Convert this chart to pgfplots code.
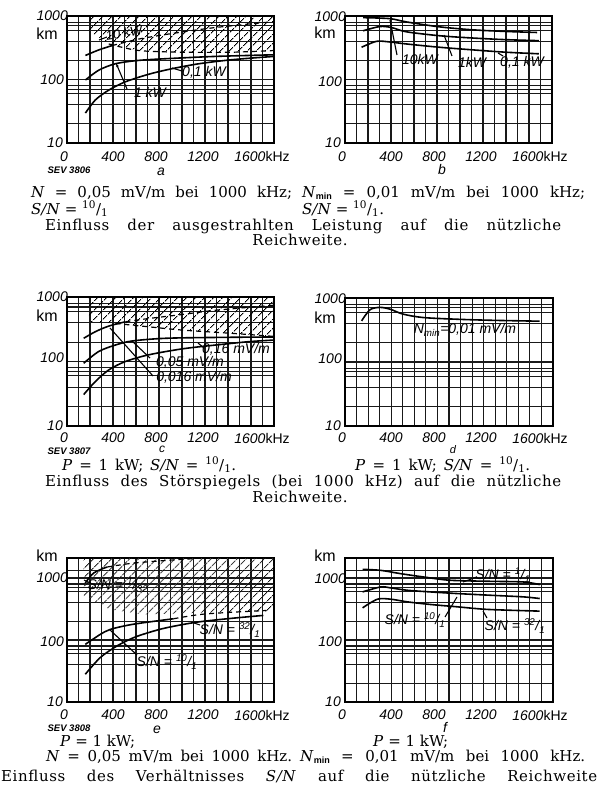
\documentclass[border=0pt]{standalone}
\usepackage{fontspec}
\setmainfont{DejaVu Serif}
\newfontfamily\hand{Liberation Sans}
\usepackage{pgfplots}
\pgfplotsset{compat=1.18}
\usetikzlibrary{patterns.meta,arrows.meta}
\newcommand\hf{\hand\itshape\fontsize{14}{14}\selectfont}
\newcommand\hu{\hand\fontsize{16}{16}\selectfont}
\newcommand\cf{\fontsize{15}{17}\selectfont}
\newcommand\ls{\addfontfeatures{LetterSpace=4}}
\newcommand\frc[2]{\textsuperscript{#1}/\textsubscript{#2}}
\newcommand\mn{\raisebox{-0.15em}{\hand\bfseries\fontsize{9}{9}\selectfont min}}
\pgfplotsset{
  every axis/.append style={scale only axis, width=207pt, height=127pt, xmin=0, xmax=1800,
    ymin=10, ymax=1000,
    xtick={0,100,...,1800}, xticklabels={},
    yticklabels={},
    major tick length=0pt, minor tick length=0pt,
    grid=major, grid style={line width=1.1pt, black!90},
    axis line style={line width=1.8pt}, clip=true, anchor=south west},
}
\tikzset{
  sevcurve/.style={line width=1.6pt, black, smooth, mark=none},
  sevdcurve/.style={line width=1.2pt, black, smooth, mark=none, dash pattern=on 5pt off 4pt},
  sevhatch/.style={draw=none, pattern={Lines[angle=45,distance=6.5pt,line width=0.9pt]}},
}
\newcommand\xlabs[2]{%
  \node[font=\hf] at (#1-3,812-#2) {0};
  \node[font=\hf] at (#1+46,812-#2) {400};
  \node[font=\hf] at (#1+89,812-#2) {800};
  \node[font=\hf] at (#1+136,812-#2) {1200};
  \node[font=\hf] at (#1+195,812-#2) {1600{\upshape kHz}};}
\newcommand\ylabs[5]{%
  \node[font=\hf, anchor=east, inner sep=0pt] at (#1+1,812-#2) {1000};
  \node[font=\hu] at (#1-20,812-#5) {km};
  \node[font=\hf, anchor=east, inner sep=0pt] at (#1-3,812-#3) {100};
  \node[font=\hf, anchor=east, inner sep=0pt] at (#1-4,812-#4) {10};}
\begin{document}
\begin{tikzpicture}
\path[use as bounding box] (0pt,0pt) rectangle (598pt,812pt);
% ---------- panel a
\begin{semilogyaxis}[at={(67pt,669pt)}, ytick={20,40,60,70,80,100,200,400,600,700,800,1000}]
\addplot[sevhatch] coordinates {(189,1000) (189,585) (363,363) (624,286) (1002,269) (1437,269) (1800,286) (1800,1000)} -- cycle;
\addplot[sevdcurve] coordinates {(363,363) (624,286) (1002,269) (1437,269) (1800,286)};
\addplot[sevcurve] coordinates {(160,29.6) (247,47.7) (363,68) (508,92) (711,121) (914,148) (1147,177) (1437,205) (1800,231)};
\addplot[sevcurve] coordinates {(160,98) (276,140) (421,177) (624,200) (914,215) (1292,231) (1800,245)};
\addplot[sevcurve] coordinates {(160,239) (276,292) (392,342)};
\addplot[sevdcurve] coordinates {(392,342) (624,433) (914,530) (1292,659) (1800,816)};
\end{semilogyaxis}
% ---------- panel b
\begin{semilogyaxis}[at={(345pt,669pt)}, ytick={20,40,60,70,80,100,200,400,600,700,800,1000}]
\addplot[sevcurve] coordinates {(158,942) (389,909) (533,807) (821,675) (1109,606) (1397,571) (1670,550)};
\addplot[sevcurve] coordinates {(158,585) (302,682) (403,659) (533,564) (821,489) (1109,450) (1397,424) (1685,409)};
\addplot[sevcurve] coordinates {(144,322) (274,399) (389,390) (533,363) (821,322) (1109,293) (1397,269) (1685,254)};
\end{semilogyaxis}
% ---------- panel c
\begin{semilogyaxis}[height=129pt, at={(67pt,386pt)}, ytick={20,40,60,70,80,100,200,400,600,700,800,1000}]
\addplot[sevhatch] coordinates {(189,1000) (189,412) (421,389) (711,345) (1002,307) (1437,273) (1800,245) (1800,1000)} -- cycle;
\addplot[sevdcurve] coordinates {(421,389) (711,345) (1002,307) (1437,273) (1800,245)};
\addplot[sevcurve] coordinates {(145,30.7) (247,49) (363,74) (508,100) (711,127) (1002,157) (1292,180) (1582,203) (1800,215)};
\addplot[sevcurve] coordinates {(145,94) (276,143) (421,180) (566,208) (856,229) (1292,236) (1800,240)};
\addplot[sevcurve] coordinates {(145,229) (247,290) (363,354) (508,413)};
\addplot[sevdcurve] coordinates {(508,413) (711,464) (1002,535) (1292,623) (1800,745)};
\end{semilogyaxis}
% ---------- panel d
\begin{semilogyaxis}[width=208pt, height=128pt, at={(345pt,386pt)}, ytick={20,40,60,70,80,100,200,400,600,700,800,1000}]
\addplot[sevcurve] coordinates {(144,439) (216,655) (302,713) (389,670) (504,559) (677,495) (965,466) (1253,449) (1685,434)};
\end{semilogyaxis}
% ---------- panel e
\begin{semilogyaxis}[height=144pt, ymax=2100, ytick={20,40,60,70,80,100,200,400,600,700,800,1000,1300}, at={(67pt,110pt)}]
\addplot[sevhatch] coordinates {(145,2100) (145,508) (376,310) (666,258) (1158,275) (1800,292) (1800,2100)} -- cycle;
\addplot[sevcurve] coordinates {(159,831) (232,1203) (347,1500)};
\addplot[sevdcurve] coordinates {(347,1500) (579,1740) (868,1920) (1100,2050)};
\addplot[sevcurve] coordinates {(159,85) (289,123) (376,148) (521,172) (666,190) (926,220)};
\addplot[sevdcurve] coordinates {(926,220) (1158,258) (1447,281) (1736,299)};
\addplot[sevcurve] coordinates {(159,28) (289,52) (434,80) (579,109) (723,134) (868,158) (1129,194) (1447,225) (1707,249)};
\end{semilogyaxis}
% ---------- panel f
\begin{semilogyaxis}[width=208pt, height=144pt, ymax=2100, ytick={20,40,60,70,80,100,200,400,600,700,800,1000,1300}, at={(345pt,110pt)}]
\addplot[sevcurve] coordinates {(152,1377) (310,1327) (481,1174) (682,1037) (911,918) (1255,884) (1542,863) (1685,782)};
\addplot[sevcurve] coordinates {(152,596) (310,717) (396,691) (539,634) (739,596) (969,561) (1255,527) (1542,496) (1685,466)};
\addplot[sevcurve] coordinates {(152,330) (281,455) (396,455) (539,412) (739,374) (969,343) (1198,314) (1399,303) (1685,292)};
\end{semilogyaxis}
\begin{scope}[x=1pt,y=1pt]
% ---------- axis labels
\xlabs{67}{157}\xlabs{345}{157}
\xlabs{67}{438}\xlabs{345}{438}
\xlabs{67}{715}\xlabs{345}{715}
\ylabs{67}{16}{80}{143}{34}
\ylabs{345}{17}{82}{143}{33}
\ylabs{67}{297}{358}{426}{316}
\ylabs{345}{299}{359}{426}{318}
\ylabs{67}{578}{642}{702}{556}
\ylabs{345}{579}{642}{702}{556}
% panel letters and SEV numbers
\begin{scope}[every node/.style={font=\hand\itshape\fontsize{14}{14}\selectfont, inner sep=0pt, anchor=base}]
\node at (161,812-176) {a};
\node at (442,812-175) {b};
\node[font=\hand\itshape\fontsize{12}{12}\selectfont] at (162,812-453) {c};
\node[font=\hand\itshape\fontsize{11}{11}\selectfont] at (453,812-454) {d};
\node at (157,812-734) {e};
\node at (445,812-733) {f};
\end{scope}
\begin{scope}[every node/.style={font=\hand\itshape\bfseries\fontsize{9.5}{9.5}\selectfont, inner sep=0pt}]
\node at (69,812-170) {SEV 3806};
\node at (69,812-451) {SEV 3807};
\node at (69,812-728) {SEV 3808};
\end{scope}
% ---------- annotations
\begin{scope}[every node/.style={font=\hf, inner sep=0.5pt}, line width=1.1pt]
\node[rotate=10, font=\hand\itshape\fontsize{13}{13}\selectfont] at (124,812-33) {10 kW};
\draw (99,812-40) -- (107,812-37);
\node at (204,812-72) {0,1 kW};
\draw (182,812-71) -- (172,812-68);
\node at (150,812-92) {1 kW};
\draw[-{Latex[length=4pt]}] (127,812-89) -- (116,812-63);
\node at (420,812-60) {10kW};
\draw (397,812-55) -- (390,812-20);
\node at (472,812-62) {1kW};
\draw (452,812-56) -- (444,812-35);
\node at (522,812-62) {0,1 kW};
\draw (503,812-56) -- (498,812-53);
\node at (236,812-349) {0,16 mV/m};
\draw (204,812-348) -- (198,812-343);
\node at (190,812-362) {0,05 mV/m};
\draw (150,812-358) -- (132,812-341);
\node at (194,812-377) {0,016 mV/m};
\draw (153,812-376) -- (110,812-328);
\node at (465,812-330) {N\textsubscript{min}=0,01 mV/m};
\node at (118,812-585) {S/N = \frc{1}{32}};
\draw (84,812-580) -- (90,812-583);
\node at (230,812-630) {S/N = \frc{32}{1}};
\draw (200,812-625) -- (194,812-623);
\node at (167,812-662) {S/N = \frc{10}{1}};
\draw (137,812-655) -- (110,812-630);
\node at (503,812-575) {S/N = \frc{1}{1}};
\draw (477,812-577) -- (463,812-582);
\node at (415,812-620) {S/N = \frc{10}{1}};
\draw (445,812-617) -- (457,812-597);
\node at (515,812-626) {S/N = \frc{32}{1}};
\draw (487,812-618) -- (483,812-611);
\end{scope}
% ---------- captions
\begin{scope}[every node/.style={anchor=west, inner sep=0pt, font=\cf}]
\node at (31,812-193) {\makebox[261pt][s]{\textit{N} = 0,05 mV/m bei 1000 kHz;}};
\node at (31,812-209) {\textit{S/N} = \frc{10}{1}};
\node at (302,812-193) {\makebox[283pt][s]{\textit{N}\mn{} = 0,01 mV/m bei 1000 kHz;}};
\node at (302,812-209) {\textit{S/N} = \frc{10}{1}.};
\node at (45,812-226) {\makebox[516pt][s]{\ls Einfluss der ausgestrahlten Leistung auf die nützliche}};
\node[anchor=center] at (300,812-240) {\ls Reichweite.};
\node at (62,812-465) {\makebox[174pt][s]{\textit{P} = 1 kW; \textit{S/N} = \frc{10}{1}.}};
\node at (355,812-465) {\makebox[175pt][s]{\textit{P} = 1 kW; \textit{S/N} = \frc{10}{1}.}};
\node at (45,812-482) {\makebox[516pt][s]{\ls Einfluss des Störspiegels (bei 1000 kHz) auf die nützliche}};
\node[anchor=center] at (300,812-497) {\ls Reichweite.};
\node at (60,812-742) {\textit{P} = 1 kW;};
\node at (46,812-757) {\makebox[246pt][s]{\textit{N} = 0,05 mV/m bei 1000 kHz.}};
\node at (373,812-742) {\textit{P} = 1 kW;};
\node at (300,812-757) {\makebox[285pt][s]{\textit{N}\mn{} = 0,01 mV/m bei 1000 kHz.}};
\node at (1,812-776) {\makebox[596pt][s]{\ls Einfluss des Verhältnisses \textit{S/N} auf die nützliche Reichweite}};
\end{scope}
\end{scope}
\end{tikzpicture}
\end{document}
